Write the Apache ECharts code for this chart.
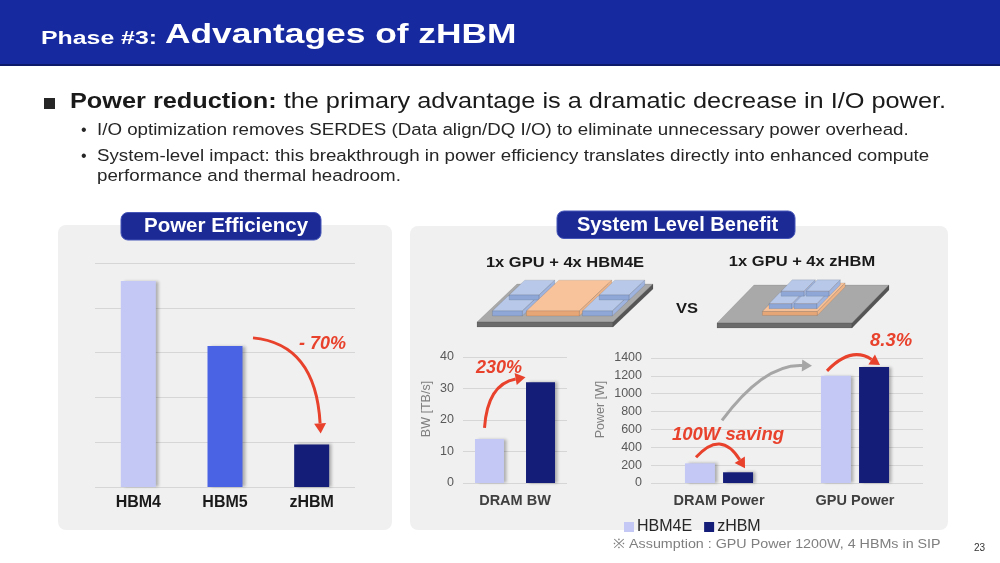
<!DOCTYPE html>
<html>
<head>
<meta charset="utf-8">
<script src="https://cdn.jsdelivr.net/npm/echarts@6/dist/echarts.min.js"></script>
<style>
  html, body { margin: 0; padding: 0; background: #fff; }
  #slide { width: 1000px; height: 563px; }
</style>
</head>
<body>
<div id="slide"></div>
<script>
// ---- data ----
var effCategories = ['HBM4', 'HBM5', 'zHBM'];
var effValues = [92, 63, 19];
var effTicks = [0, 20, 40, 60, 80, 100];

var bwCategories = ['DRAM BW'];
var bwHBM4E = [14];
var bwZHBM = [32];
var bwTicks = [0, 10, 20, 30, 40];

var powerCategories = ['DRAM Power', 'GPU Power'];
var powerHBM4E = [220, 1200];
var powerZHBM = [120, 1300];
var powerTicks = [0, 200, 400, 600, 800, 1000, 1200, 1400];

var FONT = '"Liberation Sans", Arial, sans-serif';
var RED = '#e8412c';
var C_HBM4 = '#c3c9f4', C_HBM5 = '#4a62e4', C_ZHBM = '#141d78';
var C_HBM4E = '#c3c9f4';

var chart = echarts.init(document.getElementById('slide'));

var shadow = { shadowColor: 'rgba(0,0,0,0.28)', shadowBlur: 3, shadowOffsetX: 3 };

function valueAxis(idx, ticks, showLabel, name, gap) {
    return {
        type: 'value', gridIndex: idx,
        min: ticks[0], max: ticks[ticks.length - 1], interval: ticks[1] - ticks[0],
        axisLine: { show: false }, axisTick: { show: false },
        axisLabel: { show: showLabel, color: '#595959', fontSize: 12.5, fontFamily: FONT, margin: 9,
                     formatter: function (v) { return String(v); } },
        splitLine: { show: true, lineStyle: { color: '#d6d6d6', width: 1 } },
        name: name, nameLocation: 'middle', nameRotate: 90, nameGap: gap,
        nameTextStyle: { color: '#808080', fontSize: 12.5, fontFamily: FONT, padding: [0, 0, 0, 22] }
    };
}
function catAxis(idx, data, size, color, margin) {
    return {
        type: 'category', gridIndex: idx, data: data,
        axisLine: { show: false }, axisTick: { show: false },
        axisLabel: { color: color, fontSize: size, fontWeight: 'bold', fontFamily: FONT, margin: margin }
    };
}

option = {
    animation: false,
    grid: [
        { left: 95, right: 645, top: 263, bottom: 76 },
        { left: 463, right: 433, top: 357, bottom: 80 },
        { left: 651, right: 77, top: 358, bottom: 80 }
    ],
    xAxis: [
        catAxis(0, effCategories, 16, '#1a1a1a', 8),
        catAxis(1, bwCategories, 14.5, '#404040', 10),
        catAxis(2, powerCategories, 14.5, '#404040', 10)
    ],
    yAxis: [
        valueAxis(0, effTicks, false, '', 0),
        valueAxis(1, bwTicks, true, 'BW [TB/s]', 30),
        valueAxis(2, powerTicks, true, 'Power [W]', 44)
    ],
    legend: {
        data: ['HBM4E', 'zHBM'], left: 619, top: 514,
        icon: 'rect', itemWidth: 10, itemHeight: 10, itemGap: 12,
        textStyle: { color: '#262626', fontSize: 16, fontFamily: FONT, padding: [0, 0, 0, -2] }
    },
    series: [
        {
            name: 'Power Efficiency', type: 'bar', xAxisIndex: 0, yAxisIndex: 0, barWidth: 35,
            data: effValues.map(function (v, i) {
                return { value: v, itemStyle: { color: [C_HBM4, C_HBM5, C_ZHBM][i] } };
            }),
            itemStyle: shadow
        },
        { name: 'HBM4E', type: 'bar', xAxisIndex: 1, yAxisIndex: 1, barWidth: 29, barGap: '76%',
          data: bwHBM4E, itemStyle: Object.assign({ color: C_HBM4E }, shadow) },
        { name: 'zHBM', type: 'bar', xAxisIndex: 1, yAxisIndex: 1, barWidth: 29, barGap: '76%',
          data: bwZHBM, itemStyle: Object.assign({ color: C_ZHBM }, shadow) },
        { name: 'HBM4E', type: 'bar', xAxisIndex: 2, yAxisIndex: 2, barWidth: 30, barGap: '27%',
          data: powerHBM4E, itemStyle: Object.assign({ color: C_HBM4E }, shadow) },
        { name: 'zHBM', type: 'bar', xAxisIndex: 2, yAxisIndex: 2, barWidth: 30, barGap: '27%',
          data: powerZHBM, itemStyle: Object.assign({ color: C_ZHBM }, shadow) }
    ]
};
chart.setOption(option);

// ---- slide decoration and annotations ----
function px(i, cat, v) {
    return chart.convertToPixel({ xAxisIndex: i, yAxisIndex: i }, [cat, v]);
}
function text(x, y, str, size, opts, sx) {
    opts = opts || {};
    return {
        type: 'text', z: 50, x: x, y: y, scaleX: sx || 1,
        style: Object.assign({
            text: str, fontSize: size, fontFamily: FONT, fill: '#1a1a1a',
            textAlign: 'left', textVerticalAlign: 'middle'
        }, opts)
    };
}
// curved arrow: quadratic curve p0 -> p1 with control c, arrow head at p1
function arrow(p0, c, p1, color, w) {
    var dx = p1[0] - c[0], dy = p1[1] - c[1];
    var L = Math.sqrt(dx * dx + dy * dy); dx /= L; dy /= L;
    var nx = -dy, ny = dx, hl = 10, hw = 6;
    var base = [p1[0] - dx * hl, p1[1] - dy * hl];
    return [
        { type: 'bezierCurve', z: 40, shape: { x1: p0[0], y1: p0[1], x2: base[0], y2: base[1], cpx1: c[0], cpy1: c[1] },
          style: { stroke: color, lineWidth: w, fill: null } },
        { type: 'polygon', z: 41, shape: { points: [p1, [base[0] + nx * hw, base[1] + ny * hw], [base[0] - nx * hw, base[1] - ny * hw]] },
          style: { fill: color } }
    ];
}
// 3D-ish box on a package slab
function pkg(ox, oy, dvx, dvy) {
    function P(u, v, h) { return [ox + u + dvx * v, oy + dvy * v - h]; }
    return function box(u0, u1, v0, v1, h0, h1, top, front, side) {
        return [
            { type: 'polygon', z: 20, shape: { points: [P(u0, v0, h1), P(u1, v0, h1), P(u1, v1, h1), P(u0, v1, h1)] },
              style: { fill: top, stroke: 'rgba(0,0,0,0.2)', lineWidth: 0.5 } },
            { type: 'polygon', z: 20, shape: { points: [P(u0, v0, h0), P(u1, v0, h0), P(u1, v0, h1), P(u0, v0, h1)] },
              style: { fill: front, stroke: 'rgba(0,0,0,0.2)', lineWidth: 0.5 } },
            { type: 'polygon', z: 20, shape: { points: [P(u1, v0, h0), P(u1, v1, h0), P(u1, v1, h1), P(u1, v0, h1)] },
              style: { fill: side, stroke: 'rgba(0,0,0,0.2)', lineWidth: 0.5 } }
        ];
    };
}

var g = [];
// header band
g.push({ type: 'rect', z: 1, shape: { x: 0, y: 0, width: 1000, height: 65 }, style: { fill: '#16299f' } });
g.push({ type: 'rect', z: 1, shape: { x: 0, y: 64, width: 1000, height: 2 }, style: { fill: '#0d1a6a' } });
g.push(text(41, 39, 'Phase #3:', 17.5, { fill: '#fff', fontWeight: 'bold' }, 1.42));
g.push(text(165, 35, 'Advantages of zHBM', 28.5, { fill: '#fff', fontWeight: 'bold' }, 1.24));

// bullets
g.push({ type: 'rect', z: 10, shape: { x: 44, y: 98, width: 11, height: 11 }, style: { fill: '#262626' } });
g.push(text(70, 102, '{b|Power reduction:} the primary advantage is a dramatic decrease in I/O power.', 22, {
    fill: '#1a1a1a', rich: { b: { fontWeight: 'bold', fontSize: 22, fontFamily: FONT, fill: '#1a1a1a' } }
}, 1.15));
g.push(text(81, 131, '•', 16, { fill: '#262626' }));
g.push(text(97, 131, 'I/O optimization removes SERDES (Data align/DQ I/O) to eliminate unnecessary power overhead.', 16.3, { fill: '#262626' }, 1.15));
g.push(text(81, 157, '•', 16, { fill: '#262626' }));
g.push(text(97, 157, 'System-level impact: this breakthrough in power efficiency translates directly into enhanced compute', 16.3, { fill: '#262626' }, 1.15));
g.push(text(97, 177, 'performance and thermal headroom.', 16.3, { fill: '#262626' }, 1.15));

// panels (kept below the chart grids)
g.push({ type: 'rect', z: -10, shape: { x: 58, y: 225, width: 334, height: 305, r: 8 }, style: { fill: '#f0f0f0' } });
g.push({ type: 'rect', z: -10, shape: { x: 410, y: 226, width: 538, height: 304, r: 8 }, style: { fill: '#f0f0f0' } });
// pills
g.push({ type: 'rect', z: 30, shape: { x: 121, y: 212.5, width: 200, height: 27.5, r: 7 },
         style: { fill: '#1b2a94', stroke: '#4656b8', lineWidth: 1 } });
g.push(text(226, 226.5, 'Power Efficiency', 20.5, { fill: '#fff', fontWeight: 'bold', textAlign: 'center' }));
g.push({ type: 'rect', z: 30, shape: { x: 557, y: 211, width: 238, height: 27.5, r: 7 },
         style: { fill: '#1b2a94', stroke: '#4656b8', lineWidth: 1 } });
g.push(text(677.5, 225, 'System Level Benefit', 20, { fill: '#fff', fontWeight: 'bold', textAlign: 'center' }));

// package illustrations
g.push(text(565, 263, '1x GPU + 4x HBM4E', 15, { fill: '#1a1a1a', fontWeight: 'bold', textAlign: 'center' }, 1.1));
g.push(text(802, 262, '1x GPU + 4x zHBM', 15, { fill: '#1a1a1a', fontWeight: 'bold', textAlign: 'center' }, 1.1));
g.push(text(687, 309, 'VS', 15, { fill: '#1a1a1a', fontWeight: 'bold', textAlign: 'center' }, 1.1));

var BT = '#b7c8e8', BF = '#8ea7d6', BS = '#9fb4de';
var OT = '#f8c39a', OF = '#e6a676', OS = '#eeb488';
var ST = '#a9a9a9', SF = '#6b6b6b', SS = '#555';

var boxL = pkg(477, 322, 40, -38);
g = g.concat(boxL(0, 136, 0, 1, -5, 0, ST, SF, SS));
g = g.concat(boxL(9, 39, 0.16, 0.55, 0, 5, BT, BF, BS));
g = g.concat(boxL(9, 39, 0.58, 0.97, 0, 5, BT, BF, BS));
g = g.concat(boxL(43, 96, 0.16, 0.97, 0, 5, OT, OF, OS));
g = g.concat(boxL(99, 129, 0.16, 0.55, 0, 5, BT, BF, BS));
g = g.concat(boxL(99, 129, 0.58, 0.97, 0, 5, BT, BF, BS));

var boxR = pkg(717, 323, 37, -38);
g = g.concat(boxR(0, 135, 0, 1, -5, 0, ST, SF, SS));
g = g.concat(boxR(38, 93, 0.2, 0.95, 0, 4, OT, OF, OS));
g = g.concat(boxR(42, 65, 0.27, 0.57, 4, 9, BT, BF, BS));
g = g.concat(boxR(67, 90, 0.27, 0.57, 4, 9, BT, BF, BS));
g = g.concat(boxR(42, 65, 0.6, 0.9, 4, 9, BT, BF, BS));
g = g.concat(boxR(67, 90, 0.6, 0.9, 4, 9, BT, BF, BS));

// annotations on the charts
var ann = { fill: RED, fontWeight: 'bold', fontStyle: 'italic' };
var p5 = px(0, 'HBM5', effValues[1]), pz = px(0, 'zHBM', effValues[2]);
g = g.concat(arrow([p5[0] + 28, p5[1] - 8], [pz[0] + 4, p5[1] - 2], [pz[0] + 9, pz[1] - 11], RED, 3));
g.push(text(299, 344, '- 70%', 18, ann));

var bwc = px(1, 'DRAM BW', 0)[0];
var bL = [bwc - 25.5, px(1, 'DRAM BW', bwHBM4E[0])[1]], bR = [bwc + 25.5, px(1, 'DRAM BW', bwZHBM[0])[1]];
g = g.concat(arrow([bL[0] - 5, bL[1] - 11], [bL[0] - 2, bR[1] + 2], [bR[0] - 15, bR[1] - 5], RED, 3));
g.push(text(476, 368, '230%', 18, ann));

var dc = px(2, 'DRAM Power', 0)[0], gc = px(2, 'GPU Power', 0)[0];
var dL = [dc - 19, px(2, 'DRAM Power', powerHBM4E[0])[1]], dR = [dc + 19, px(2, 'DRAM Power', powerZHBM[0])[1]];
var gL = [gc - 19, px(2, 'GPU Power', powerHBM4E[1])[1]], gR = [gc + 19, px(2, 'GPU Power', powerZHBM[1])[1]];
g = g.concat(arrow([dL[0] - 4, dL[1] - 6], [(dL[0] + dR[0]) / 2 + 2, dL[1] - 34], [dR[0] + 7, dR[1] - 4], RED, 3));
g = g.concat(arrow([dR[0] - 16, dR[1] - 52], [gL[0] - 72, gL[1] - 12], [gL[0] - 24, gL[1] - 10], '#a6a6a6', 3));
g = g.concat(arrow([gL[0] - 9, gL[1] - 5], [(gL[0] + gR[0]) / 2 - 4, gL[1] - 30], [gR[0] + 6, gR[1] - 2], RED, 3));
g.push(text(672, 434.5, '100W saving', 18.5, ann));
g.push(text(870, 341, '8.3%', 18.5, ann));

// footnote and page number
g.push(text(613, 544, '※ Assumption : GPU Power 1200W, 4 HBMs in SIP', 13, { fill: '#7f7f7f' }, 1.1));
g.push(text(974, 548, '23', 10, { fill: '#333' }));

chart.setOption({ graphic: { elements: g } });
</script>
</body>
</html>
